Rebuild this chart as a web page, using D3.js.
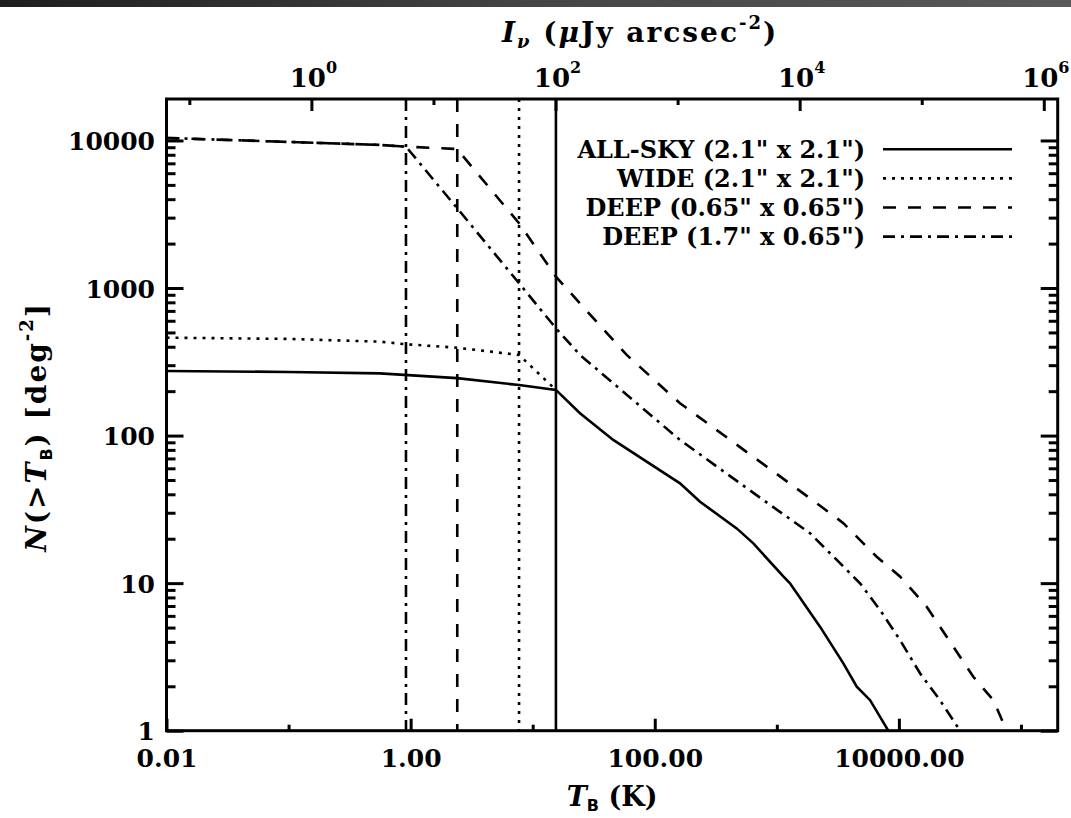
<!DOCTYPE html>
<html><head><meta charset="utf-8">
<script src="https://cdn.jsdelivr.net/npm/d3@7"></script>
<style>
body{margin:0;background:#fff}
svg{display:block}
text{font-family:"DejaVu Serif";font-weight:bold;fill:#000}
</style>
</head><body>
<svg id="c" width="1071" height="818"></svg>
<script>
// ---------------- data ----------------
const allskyT = [0.01, 0.1, 0.56, 2.40, 7.73, 15.5, 24.4, 45.7, 161, 235, 469, 642, 1130, 1282, 2258, 3507, 4517, 5808, 8190];
const allskyN = [274, 270, 264, 245, 220, 204, 141.6, 93.4, 47.5, 35.6, 23.5, 18.6, 11.1, 9.98, 5.07, 2.86, 1.99, 1.61, 1.0];

const wideT = [0.01, 0.1, 0.56, 0.916, 2.40, 7.73, 15.5];
const wideN = [461, 452, 433, 416, 394, 352, 204];

const deepT = [0.01, 0.56, 0.916, 2.40, 7.73, 15.5, 23.0, 58.9, 161, 2123, 3509, 6580, 10200, 16900, 27900, 40700, 59400, 76400];
const deepN = [10400, 9330, 9080, 8750, 2748, 1194, 830, 352, 165.6, 34.8, 25.5, 15.1, 11.1, 6.92, 3.71, 2.32, 1.61, 1.0];

const deepWideT = [0.01, 0.56, 0.916, 2.41, 7.73, 15.5, 24.4, 161, 774, 1870, 2563, 4805, 7000, 10200, 14900, 21700, 31700];
const deepWideN = [10400, 9330, 9080, 3470, 1077, 534, 352, 93.4, 36.6, 21.8, 16.8, 9.98, 6.58, 4.12, 2.45, 1.61, 1.0];

// sensitivity limits (vertical lines), K
const limitT = [15.5, 7.73, 2.41, 0.916];

const seriesNames = ['ALL-SKY (2.1" x 2.1")', 'WIDE (2.1" x 2.1")', 'DEEP (0.65" x 0.65")', 'DEEP (1.7" x 0.65")'];

const xTickValues = [0.01, 1, 100, 10000];
const xTickLabels = ["0.01", "1.00", "100.00", "10000.00"];
const xMinorValues = [0.1, 10, 1000, 100000];
const yTickValues = [1, 10, 100, 1000, 10000];
const yTickLabels = ["1", "10", "100", "1000", "10000"];
const topExponents = [0, 2, 4, 6];
const topMinorExponents = [-1, 1, 3, 5];
const kToMicroJy = 6.5; // µJy arcsec^-2 per K at 3 GHz (Rayleigh-Jeans)

// ---------------- layout ----------------
const svg = d3.select("#c");
const L = 166.5, R = 1057.7, T = 99, B = 730.7;

// top screenshot band
const defs = svg.append("defs");
const gr = defs.append("linearGradient").attr("id", "band");
gr.append("stop").attr("offset", "0%").attr("stop-color", "#1e1e1e");
gr.append("stop").attr("offset", "50%").attr("stop-color", "#454545");
gr.append("stop").attr("offset", "100%").attr("stop-color", "#5a5a5a");
svg.append("rect").attr("x", 0).attr("y", 0).attr("width", 1071).attr("height", 7).attr("fill", "url(#band)");

defs.append("clipPath").attr("id", "plotclip").append("rect")
  .attr("x", L).attr("y", T).attr("width", R - L).attr("height", B - T);

const x = d3.scaleLog().domain([0.01, 2e5]).range([L, R]);
const xTop = d3.scaleLog().domain([0.01 * kToMicroJy, 2e5 * kToMicroJy]).range([L, R]);
const y = d3.scaleLog().domain([1, 1.91e4]).range([B, T]);

const styles = [
  {dash: null},
  {dash: "3,6"},
  {dash: "13,12"},
  {dash: "12,6,3,6"}
];

// ---------------- curves ----------------
const plot = svg.append("g").attr("clip-path", "url(#plotclip)");
const line = d3.line().x(d => x(d[0])).y(d => y(d[1]));
const series = [
  d3.zip(allskyT, allskyN),
  d3.zip(wideT, wideN),
  d3.zip(deepT, deepN),
  d3.zip(deepWideT, deepWideN)
];
series.forEach((s, i) => {
  plot.append("path").attr("d", line(s)).attr("fill", "none")
    .attr("stroke", "#000").attr("stroke-width", 2.6)
    .attr("stroke-dasharray", styles[i].dash);
});
limitT.forEach((t, i) => {
  plot.append("line").attr("x1", x(t)).attr("x2", x(t)).attr("y1", T).attr("y2", B)
    .attr("stroke", "#000").attr("stroke-width", 2.6)
    .attr("stroke-dasharray", styles[i].dash);
});

// ---------------- axes ----------------
function styleAxis(g) {
  g.select(".domain").remove();
  g.selectAll(".tick line").attr("stroke", "#000").attr("stroke-width", 3);
}
// bottom
svg.append("g").attr("transform", `translate(0,${B})`)
  .call(d3.axisBottom(x).tickValues(xTickValues).tickSizeInner(-12).tickSizeOuter(0)
    .tickPadding(18.5).tickFormat((d, i) => xTickLabels[i]))
  .call(styleAxis)
  .call(g => g.selectAll("text").attr("font-size", 25).attr("font-family", "DejaVu Serif").attr("font-weight", "bold"));
svg.append("g").attr("transform", `translate(0,${B})`)
  .call(d3.axisBottom(x).tickValues(xMinorValues).tickSizeInner(-6).tickSizeOuter(0).tickFormat(""))
  .call(styleAxis);
// top
svg.append("g").attr("transform", `translate(0,${T})`)
  .call(d3.axisTop(xTop).tickValues(topExponents.map(e => Math.pow(10, e))).tickSizeInner(-12).tickSizeOuter(0).tickFormat(""))
  .call(styleAxis);
svg.append("g").attr("transform", `translate(0,${T})`)
  .call(d3.axisTop(xTop).tickValues(topMinorExponents.map(e => Math.pow(10, e))).tickSizeInner(-6).tickSizeOuter(0).tickFormat(""))
  .call(styleAxis);
topExponents.forEach(e => {
  const t = svg.append("text").attr("x", xTop(Math.pow(10, e)) + 2).attr("y", 87)
    .attr("text-anchor", "middle").attr("font-size", 26);
  t.append("tspan").text("10");
  t.append("tspan").attr("font-size", 16).attr("dy", -14).text(String(e));
});
// y minors
const yMinor = [];
for (let d = 0; d < 5; d++) for (let m = 2; m <= 9; m++) {
  const v = m * Math.pow(10, d);
  if (v <= 1.91e4) yMinor.push(v);
}
// left
svg.append("g").attr("transform", `translate(${L},0)`)
  .call(d3.axisLeft(y).tickValues(yTickValues).tickSizeInner(-17).tickSizeOuter(0)
    .tickPadding(11.5).tickFormat((d, i) => yTickLabels[i]))
  .call(styleAxis)
  .call(g => g.selectAll("text").attr("font-size", 25).attr("dy", "0.36em")
    .attr("font-family", "DejaVu Serif").attr("font-weight", "bold"));
svg.append("g").attr("transform", `translate(${L},0)`)
  .call(d3.axisLeft(y).tickValues(yMinor).tickSizeInner(-9).tickSizeOuter(0).tickFormat(""))
  .call(styleAxis);
// right
svg.append("g").attr("transform", `translate(${R},0)`)
  .call(d3.axisRight(y).tickValues(yTickValues).tickSizeInner(-17).tickSizeOuter(0).tickFormat(""))
  .call(styleAxis);
svg.append("g").attr("transform", `translate(${R},0)`)
  .call(d3.axisRight(y).tickValues(yMinor).tickSizeInner(-9).tickSizeOuter(0).tickFormat(""))
  .call(styleAxis);

// frame
svg.append("rect").attr("x", L).attr("y", T).attr("width", R - L).attr("height", B - T)
  .attr("fill", "none").attr("stroke", "#000").attr("stroke-width", 3);

// ---------------- legend ----------------
const legX1 = 883, legX2 = 1012, legY0 = 149.3, legDY = 29.1;
seriesNames.forEach((name, i) => {
  const yy = legY0 + i * legDY;
  svg.append("text").attr("x", 865).attr("y", yy + 8.5).attr("text-anchor", "end")
    .attr("font-size", 24).text(name);
  svg.append("line").attr("x1", legX1).attr("x2", legX2).attr("y1", yy).attr("y2", yy)
    .attr("stroke", "#000").attr("stroke-width", 2.6).attr("stroke-dasharray", styles[i].dash);
});

// ---------------- axis titles ----------------
const cx = (L + R) / 2;
const xl = svg.append("text").attr("x", cx).attr("y", 806).attr("text-anchor", "middle").attr("font-size", 27);
xl.append("tspan").attr("font-style", "italic").text("T");
xl.append("tspan").attr("font-size", 16).attr("dy", 5).attr("font-family", "DejaVu Sans").text("B");
xl.append("tspan").attr("dy", -5).text(" (K)");

const tl = svg.append("text").attr("x", cx + 28).attr("y", 42).attr("text-anchor", "middle")
  .attr("font-size", 28).attr("letter-spacing", 2);
tl.append("tspan").attr("font-style", "italic").text("I");
tl.append("tspan").attr("font-size", 18).attr("dy", 6).attr("font-style", "italic").text("ν");
tl.append("tspan").attr("dy", -6).text(" (");
tl.append("tspan").attr("font-style", "italic").text("μ");
tl.append("tspan").text("Jy arcsec");
tl.append("tspan").attr("font-size", 18).attr("dy", -13).text("-2");
tl.append("tspan").attr("dy", 13).text(")");

const yl = svg.append("text").attr("transform", `translate(46,${(T + B) / 2 + 12}) rotate(-90)`)
  .attr("text-anchor", "middle").attr("font-size", 28).attr("letter-spacing", 2);
yl.append("tspan").attr("font-style", "italic").text("N");
yl.append("tspan").text("(>");
yl.append("tspan").attr("font-style", "italic").text("T");
yl.append("tspan").attr("font-size", 16).attr("dy", 6).attr("font-family", "DejaVu Sans").text("B");
yl.append("tspan").attr("dy", -6).text(") [deg");
yl.append("tspan").attr("font-size", 18).attr("dy", -13).text("-2");
yl.append("tspan").attr("dy", 13).text("]");
</script>
</body></html>
